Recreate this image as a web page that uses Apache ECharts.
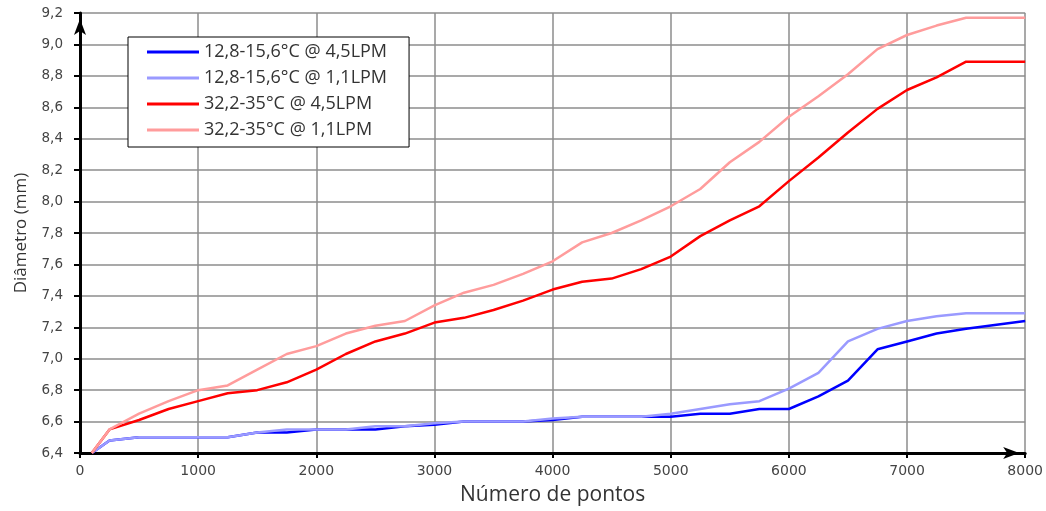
<!DOCTYPE html>
<html>
<head>
<meta charset="utf-8">
<script src="https://cdn.jsdelivr.net/npm/echarts@6/dist/echarts.min.js"></script>
<style>
  html, body { margin: 0; padding: 0; background: #fff; }
  #chart { width: 1046px; height: 511px; }
</style>
</head>
<body>
<div id="chart"></div>
<script>
// pontos (eixo x)
const points = [100, 250, 500, 750, 1000, 1250, 1500, 1750, 2000, 2250, 2500, 2750, 3000, 3250, 3500, 3750,
  4000, 4250, 4500, 4750, 5000, 5250, 5500, 5750, 6000, 6250, 6500, 6750, 7000, 7250, 7500, 8000]

const cold45 = [6.40, 6.48, 6.50, 6.50, 6.50, 6.50, 6.53, 6.53, 6.55, 6.55, 6.55, 6.57, 6.58, 6.60, 6.60, 6.60,
  6.61, 6.63, 6.63, 6.63, 6.63, 6.65, 6.65, 6.68, 6.68, 6.76, 6.86, 7.06, 7.11, 7.16, 7.19, 7.24]
const cold11 = [6.40, 6.48, 6.50, 6.50, 6.50, 6.50, 6.53, 6.55, 6.55, 6.55, 6.57, 6.57, 6.59, 6.60, 6.60, 6.60,
  6.62, 6.63, 6.63, 6.63, 6.65, 6.68, 6.71, 6.73, 6.81, 6.91, 7.11, 7.19, 7.24, 7.27, 7.29, 7.29]
const hot45 = [6.40, 6.55, 6.61, 6.68, 6.73, 6.78, 6.80, 6.85, 6.93, 7.03, 7.11, 7.16, 7.23, 7.26, 7.31, 7.37,
  7.44, 7.49, 7.51, 7.57, 7.65, 7.78, 7.88, 7.97, 8.13, 8.28, 8.44, 8.59, 8.71, 8.79, 8.89, 8.89]
const hot11 = [6.40, 6.55, 6.65, 6.73, 6.80, 6.83, 6.93, 7.03, 7.08, 7.16, 7.21, 7.24, 7.34, 7.42, 7.47, 7.54,
  7.62, 7.74, 7.80, 7.88, 7.97, 8.08, 8.25, 8.38, 8.54, 8.67, 8.81, 8.97, 9.06, 9.12, 9.17, 9.17]

const seriesNames = ['12,8-15,6°C @ 4,5LPM', '12,8-15,6°C @ 1,1LPM', '32,2-35°C @ 4,5LPM', '32,2-35°C @ 1,1LPM']
const seriesData = [cold45, cold11, hot45, hot11]
const colors = ['#0000ff', '#9a9aff', '#ff0000', '#ff9c9c']

const font = 'Open Sans'

const chart = echarts.init(document.getElementById('chart'))
chart.setOption({
  animation: false,
  grid: { left: 80, right: 18, top: 13, bottom: 57 },
  legend: {
    orient: 'vertical',
    left: 128,
    top: 37,
    padding: [6, 22, 8, 19],
    itemGap: 8,
    icon: 'rect',
    itemWidth: 52,
    itemHeight: 3,
    borderColor: '#000',
    borderWidth: 1,
    backgroundColor: '#fff',
    textStyle: { fontFamily: font, fontSize: 18, color: '#333' },
    data: seriesNames
  },
  xAxis: {
    type: 'value',
    min: 0,
    max: 8000,
    interval: 1000,
    name: 'Número de pontos',
    nameLocation: 'middle',
    nameGap: 32,
    nameTextStyle: { fontFamily: font, fontSize: 21, color: '#333' },
    axisLine: { lineStyle: { color: '#000', width: 3 }, symbol: ['none', 'arrow'], symbolSize: [9, 16], symbolOffset: [0, -6] },
    axisTick: { show: true, length: 5, lineStyle: { color: '#000', width: 2 } },
    axisLabel: { margin: 11, fontFamily: 'DejaVu Sans', fontSize: 14, color: '#444', formatter: v => String(v) },
    splitLine: { show: true, lineStyle: { color: '#8c8c8c', width: 1.5 } }
  },
  yAxis: {
    type: 'value',
    min: 6.4,
    max: 9.2,
    interval: 0.2,
    name: 'Diâmetro (mm)',
    nameLocation: 'middle',
    nameGap: 50,
    nameTextStyle: { fontFamily: font, fontSize: 17, color: '#333' },
    axisLine: { show: true, lineStyle: { color: '#000', width: 3 }, symbol: ['none', 'arrow'], symbolSize: [9, 16], symbolOffset: [0, -6] },
    axisTick: { show: true, length: 6, lineStyle: { color: '#000', width: 2 } },
    axisLabel: {
      margin: 17,
      fontFamily: 'DejaVu Sans',
      fontSize: 13.5,
      color: '#444',
      formatter: v => v.toFixed(1).replace('.', ',')
    },
    splitLine: { show: true, lineStyle: { color: '#8c8c8c', width: 1.5 } }
  },
  series: seriesNames.map((name, i) => ({
    name: name,
    type: 'line',
    symbol: 'none',
    color: colors[i],
    lineStyle: { width: 2.5, color: colors[i] },
    data: points.map((p, j) => [p, seriesData[i][j]])
  }))
})
</script>
</body>
</html>
